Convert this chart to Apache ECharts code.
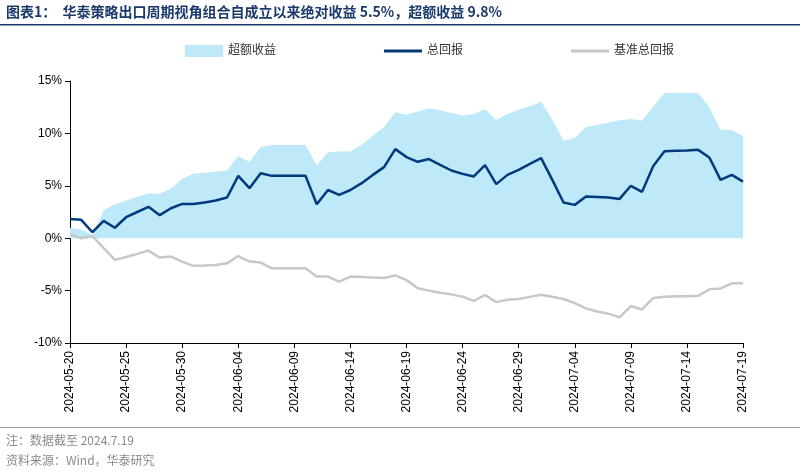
<!DOCTYPE html>
<html>
<head>
<meta charset="utf-8">
<script src="https://cdn.jsdelivr.net/npm/echarts@6/dist/echarts.min.js"></script>
<style>html,body{margin:0;padding:0;background:#fff}#main{width:800px;height:474px}</style>
</head>
<body>
<div id="main"></div>
<script>
// 2024-05-20 .. 2024-07-19, every calendar day
const startDate = new Date(2024, 4, 20);
const dates = [];
for (let i = 0; i < 61; i++) {
    const d = new Date(startDate.getTime() + i * 86400000);
    dates.push(d.getFullYear() + '-' + String(d.getMonth() + 1).padStart(2, '0') + '-' + String(d.getDate()).padStart(2, '0'));
}

const excess = [1.0, 0.8, 0.3, 2.7, 3.25, 3.6, 3.95, 4.27, 4.24, 4.75,
    5.67, 6.15, 6.25, 6.35, 6.47, 7.85, 7.27, 8.7, 8.9, 8.9,
    8.9, 8.9, 6.93, 8.2, 8.27, 8.27, 8.9, 9.77, 10.6, 12.03,
    11.78, 12.1, 12.4, 12.2, 11.94, 11.7, 11.86, 12.3, 11.3, 11.86,
    12.25, 12.57, 13.05, 11.3, 9.3, 9.55, 10.6, 10.8, 11.04, 11.25,
    11.37, 11.2, 12.57, 13.85, 13.85, 13.85, 13.85, 12.47, 10.34, 10.3,
    9.77];
const total = [1.84, 1.75, 0.57, 1.65, 1.0, 2.0, 2.5, 3.0, 2.2, 2.86,
    3.27, 3.27, 3.4, 3.6, 3.88, 5.95, 4.77, 6.2, 5.95, 5.95,
    5.95, 5.95, 3.24, 4.6, 4.13, 4.6, 5.25, 6.04, 6.78, 8.5,
    7.74, 7.29, 7.55, 7.0, 6.46, 6.14, 5.89, 6.97, 5.16, 6.04,
    6.52, 7.1, 7.64, 5.57, 3.4, 3.18, 3.97, 3.93, 3.88, 3.75,
    5.0, 4.42, 6.9, 8.3, 8.35, 8.38, 8.43, 7.7, 5.57, 6.04,
    5.4];
const bench = [0.38, 0, 0.2, -0.95, -2.07, -1.8, -1.5, -1.18, -1.85, -1.75,
    -2.23, -2.64, -2.6, -2.55, -2.4, -1.7, -2.23, -2.32, -2.87, -2.87,
    -2.87, -2.87, -3.66, -3.66, -4.14, -3.66, -3.7, -3.75, -3.8, -3.55,
    -4.0, -4.78, -5.0, -5.2, -5.36, -5.58, -5.99, -5.42, -6.1, -5.87,
    -5.8, -5.6, -5.4, -5.58, -5.8, -6.2, -6.7, -7.0, -7.2, -7.55,
    -6.47, -6.8, -5.7, -5.58, -5.55, -5.53, -5.5, -4.88, -4.8, -4.3,
    -4.3];

const chart = echarts.init(document.getElementById('main'));
chart.setOption({
    animation: false,
    textStyle: { fontFamily: 'Liberation Sans, Noto Sans CJK SC, sans-serif' },
    graphic: [
        { type: 'text', left: 6, top: 5, style: { text: '图表1：  华泰策略出口周期视角组合自成立以来绝对收益 5.5%，超额收益 9.8%', fill: '#1b3a6b', font: 'bold 14px "Noto Sans CJK SC", sans-serif' } },
        { type: 'rect', left: 0, top: 24, shape: { width: 800, height: 1.5 }, style: { fill: '#1b3a6b' } },
        { type: 'rect', left: 0, top: 427, shape: { width: 800, height: 1 }, style: { fill: '#9a9a9a' } },
        { type: 'text', left: 6, top: 434, style: { text: '注：数据截至 2024.7.19', fill: '#8a8a8a', font: '12px "Noto Sans CJK SC", sans-serif' } },
        { type: 'text', left: 6, top: 454, style: { text: '资料来源：Wind，华泰研究', fill: '#8a8a8a', font: '12px "Noto Sans CJK SC", sans-serif' } }
    ],
    legend: {
        top: 40, left: 180, itemGap: 108, itemWidth: 38, itemHeight: 12,
        textStyle: { fontSize: 12, color: '#333' },
        data: [
            { name: '超额收益', icon: 'rect' },
            { name: '总回报', icon: 'path://M0,5 L36,5 L36,8 L0,8 Z' },
            { name: '基准总回报', icon: 'path://M0,5 L36,5 L36,8 L0,8 Z' }
        ]
    },
    grid: { left: 70, right: 57, top: 81, bottom: 131 },
    xAxis: {
        type: 'category', data: dates, boundaryGap: false,
        axisLine: { onZero: false, lineStyle: { color: '#000' } },
        axisTick: { alignWithLabel: true, interval: 4, lineStyle: { color: '#000' } },
        axisLabel: { interval: 4, rotate: 90, color: '#000', fontSize: 12, margin: 8 },
        splitLine: { show: false }
    },
    yAxis: {
        type: 'value', min: -10, max: 15, interval: 5,
        axisLine: { show: true, lineStyle: { color: '#000' } },
        axisTick: { show: true, lineStyle: { color: '#000' } },
        axisLabel: { formatter: '{value}%', color: '#000', fontSize: 12 },
        splitLine: { show: false }
    },
    series: [
        { name: '超额收益', type: 'line', data: excess, symbol: 'none', lineStyle: { width: 0 },
          itemStyle: { color: '#bde9f8' }, areaStyle: { color: '#bde9f8', opacity: 1 } },
        { name: '基准总回报', type: 'line', data: bench, symbol: 'none',
          itemStyle: { color: '#c8c8c8' }, lineStyle: { width: 2.5, color: '#c8c8c8' } },
        { name: '总回报', type: 'line', data: total, symbol: 'none',
          itemStyle: { color: '#003a7d' }, lineStyle: { width: 2.5, color: '#003a7d' } }
    ]
});
</script>
</body>
</html>
